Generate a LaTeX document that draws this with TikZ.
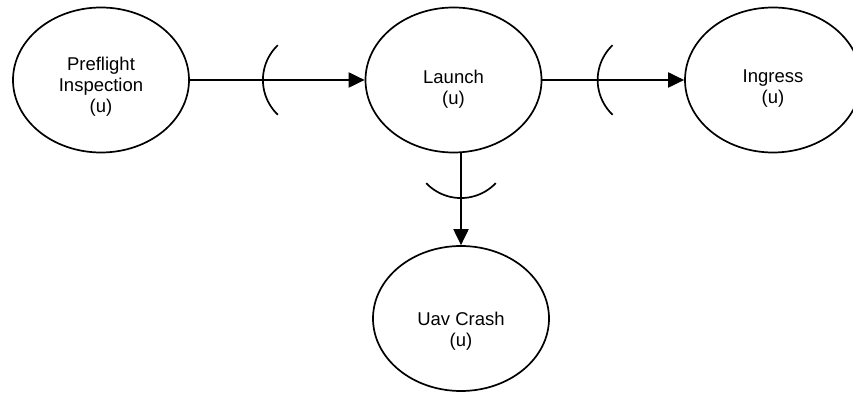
\documentclass[tikz,border=0pt]{standalone}
\usepackage{fontspec}
\setmainfont{Liberation Sans}
\usetikzlibrary{shapes.geometric,arrows.meta}

\begin{document}
\begin{tikzpicture}[
  x=1pt, y=1pt,
  state/.style={ellipse, draw, line width=1.7pt, minimum width=176pt, minimum height=145pt, inner sep=0pt},
  conn/.style={line width=2pt, -{Triangle[length=16pt,width=15pt]}},
  socket/.style={line width=1.7pt},
  every label/.style={align=center, font=\fontsize{18.5}{21}\selectfont}
]
  \useasboundingbox (0,0) rectangle (853,393);

  \node[state, label={[yshift=-7pt]center:{Preflight\\Inspection\\(u)}}] (pre) at (101,313) {};
  \node[state, label={[yshift=-9pt]center:{Launch\\(u)}}] (launch) at (453.5,313) {};
  \node[state, label={[yshift=-9pt]center:{Ingress\\(u)}}] (ingress) at (773,313) {};
  \node[state, label={[yshift=-13pt]center:{Uav Crash\\(u)}}] (crash) at (461,74.5) {};

  % connectors
  \draw[conn] (pre) -- coordinate[pos=0.418] (s1) (launch);
  \draw[conn] (launch) -- coordinate[pos=0.39] (s2) (ingress);
  \draw[conn] (launch.south -| crash.north) -- coordinate[pos=0.487] (s3) (crash.north);

  % sockets
  \draw[socket] (s1) ++(14.9,34.8) arc[start angle=133.6, end angle=226.4, radius=48];
  \draw[socket] (s2) ++(14.9,34.8) arc[start angle=133.6, end angle=226.4, radius=48];
  \draw[socket] (s3) ++(-34.8,14.9) arc[start angle=223.6, end angle=316.4, radius=48];
\end{tikzpicture}
\end{document}
